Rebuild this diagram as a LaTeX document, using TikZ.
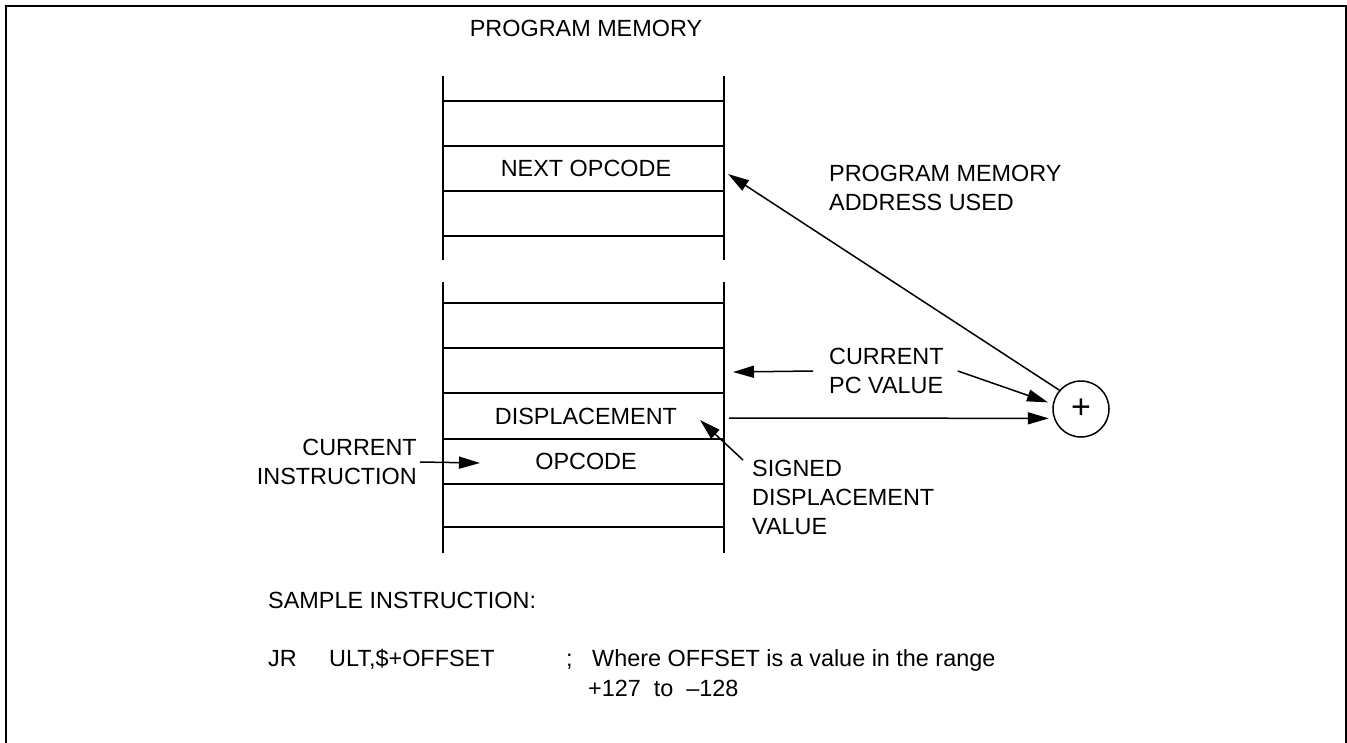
\documentclass[tikz,border=0pt]{standalone}
\usepackage{fontspec}
\setmainfont{Liberation Sans}
\usetikzlibrary{arrows.meta}

\tikzset{
	lbl/.style={inner sep=0pt, font=\fontsize{23.4}{29}\selectfont},
	cell/.style={line width=1.5pt},
	arr/.style={line width=1.5pt, -{Triangle[length=21pt,width=12pt]}},
	adder/.style={draw, circle, line width=1.5pt, minimum size=56pt, inner sep=0pt, font=\fontsize{34}{34}\selectfont},
}

\begin{document}
\begin{tikzpicture}[x=1pt,y=-1pt]
\useasboundingbox (0,0) rectangle (1347,742);
\draw[line width=2.3pt] (6.2,780) -- (6.2,6.2) -- (1346.3,6.2) -- (1346.3,780);

% upper piece of memory
\foreach \y in {101,146,191,236} {
	\draw[cell] (443,\y) -- (724,\y);
}
\draw[cell] (443,76) -- (443,260);
\draw[cell] (724,76) -- (724,260);
% lower piece
\foreach \y in {303,348,393,439,484,527} {
	\draw[cell] (443,\y) -- (724,\y);
}
\draw[cell] (443,282) -- (443,553);
\draw[cell] (724,282) -- (724,553);

\node[lbl] (title) at (586,28.5) {PROGRAM MEMORY};
\node[lbl] (next) at (586,168.5) {NEXT OPCODE};
\node[lbl] (disp) at (586,416) {DISPLACEMENT};
\node[lbl] (opc) at (586,461.5) {OPCODE};

\node[adder] (sum) at (1081,409) {+};

\node[lbl, anchor=west, align=left] (pmau) at (829,187.5) {PROGRAM MEMORY\\ADDRESS USED};
\node[lbl, anchor=west, align=left] (pc) at (829,371) {CURRENT\\PC VALUE};
\node[lbl, anchor=west, align=left] (sdv) at (752,497.5) {SIGNED\\DISPLACEMENT\\VALUE};
\node[lbl, anchor=east, align=right] (ci) at (417,462) {CURRENT\\INSTRUCTION};

\coordinate (nextin) at (728,174);
\coordinate (pcin) at (733,372);
\coordinate (dispout) at (729,418);
\coordinate (sdvin) at (700,420);
\coordinate (ciout) at (480,463);

\draw[arr] (sum.139) -- (nextin);
\draw[arr] ([xshift=-16pt]pc.west) -- (pcin);
\draw[arr, shorten >=5pt] ([xshift=14pt]pc.east) -- (sum.170);
\draw[arr, shorten >=5pt] (dispout) -- (sum.199);
\draw[arr] ([xshift=-9pt]sdv.north west) -- (sdvin);
\draw[arr] ([xshift=3pt]ci.east) -- (ciout);

% sample line at the bottom
\node[lbl, anchor=base west] (sample) at (268,608.5) {SAMPLE INSTRUCTION:};
\node[lbl, anchor=base west] (op) at (268,666.5) {JR};
\node[lbl, anchor=base west] (operand) at (329,666.5) {ULT,\$+OFFSET};
\node[lbl, anchor=base west] (semi) at (566,666.5) {;};
\node[lbl, anchor=base west] (note) at (592,666.5) {Where OFFSET is a value in the range};
\node[lbl, anchor=base west] (range) at (588,696.5) {+127\ \ to\ \ \textendash128};
\end{tikzpicture}
\end{document}
